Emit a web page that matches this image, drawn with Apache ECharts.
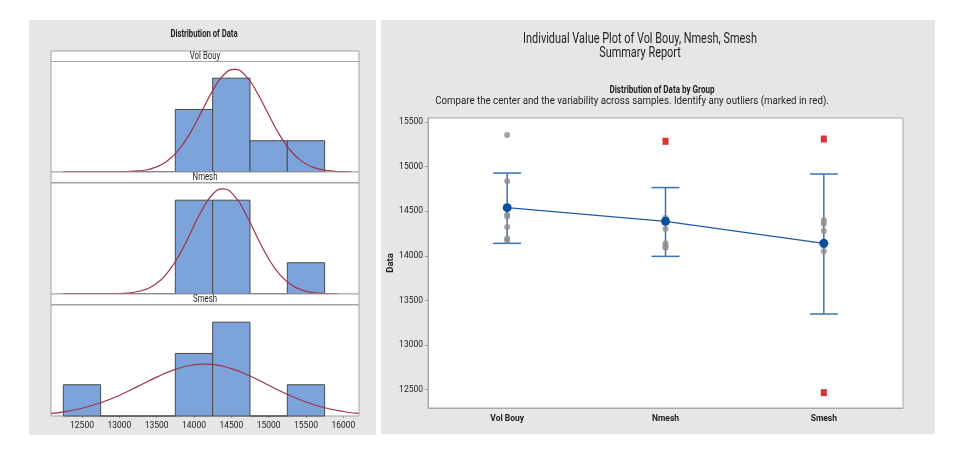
<!DOCTYPE html>
<html>
<head>
<meta charset="utf-8">
<script src="https://cdn.jsdelivr.net/npm/echarts@6/dist/echarts.min.js"></script>
<style>
  html, body { margin: 0; padding: 0; background: #fff; }
  #main { width: 956px; height: 449px; }
</style>
</head>
<body>
<div id="main"></div>
<script>
var FONT = "Roboto, 'Liberation Sans', sans-serif";

// histogram bins (left edge) and counts per group
var binStarts = [12250, 12750, 13250, 13750, 14250, 14750, 15250];
var binWidth = 500;
var volCounts = [0, 0, 0, 2, 3, 1, 1];
var nmeshCounts = [0, 0, 0, 3, 3, 0, 1];
var smeshCounts = [1, 0, 0, 2, 3, 0, 1];
var histTicks = [12500, 13000, 13500, 14000, 14500, 15000, 15500, 16000];

// fitted normal curves
var volCurve = [[12250, 0], [12750, 0.001], [13000, 0.005], [13250, 0.033], [13500, 0.165], [13650, 0.367],
  [13800, 0.721], [13950, 1.253], [14100, 1.922], [14250, 2.602], [14400, 3.111], [14540, 3.285],
  [14700, 3.06], [14850, 2.518], [15000, 1.829], [15150, 1.173], [15300, 0.664], [15450, 0.332],
  [15600, 0.146], [15800, 0.041], [16000, 0.009], [16110, 0.002]];
var nmeshCurve = [[12250, 0], [12750, 0.001], [13000, 0.013], [13250, 0.079], [13500, 0.345], [13650, 0.699],
  [13800, 1.242], [13950, 1.937], [14100, 2.654], [14250, 3.19], [14386, 3.365], [14550, 3.113],
  [14700, 2.527], [14850, 1.802], [15000, 1.126], [15150, 0.618], [15300, 0.298], [15450, 0.126],
  [15600, 0.047], [15750, 0.015], [15920, 0.004]];
var smeshCurve = [[12085, 0.083], [12250, 0.132], [12500, 0.247], [12750, 0.423], [13000, 0.662], [13250, 0.948],
  [13500, 1.243], [13750, 1.492], [14000, 1.639], [14140, 1.662], [14250, 1.648], [14500, 1.516],
  [14750, 1.277], [15000, 0.984], [15250, 0.694], [15500, 0.448], [15750, 0.265], [16000, 0.143], [16206, 0.081]];

// individual value plot
var groups = ['Vol Bouy', 'Nmesh', 'Smesh'];
var volValues = [15354, 14835, 14460, 14440, 14323, 14193, 14170];
var nmeshValues = [14426, 14380, 14300, 14140, 14110, 14090];
var nmeshOutliers = [15284];
var smeshValues = [14400, 14360, 14278, 14117, 14050];
var smeshOutliers = [15309, 12466];
var means = [14540, 14387, 14140];
var ciLow = [14140, 13994, 13348];
var ciHigh = [14928, 14765, 14917];
var dataTicks = [12500, 13000, 13500, 14000, 14500, 15000, 15500];

function histData(counts) {
  return counts.map(function (c, i) { return [binStarts[i], binStarts[i] + binWidth, c]; });
}
function pointData(idx, arr) {
  return arr.map(function (v) { return [idx, v]; });
}
function plain(v) { return String(v); }

var chart = echarts.init(document.getElementById('main'));

var histTops = [61, 183, 305];
var grids = [], xAxes = [], yAxes = [], series = [];
[volCounts, nmeshCounts, smeshCounts].forEach(function (counts, i) {
  grids.push({ left: 51, width: 308, top: histTops[i], height: 111, show: true,
    backgroundColor: '#fff', borderColor: '#a3a3a3', borderWidth: 1 });
  xAxes.push({ type: 'value', gridIndex: i, min: 12085, max: 16210,
    axisLine: { show: false }, splitLine: { show: false },
    axisTick: { show: i === 2, length: 2, lineStyle: { color: '#999' }, customValues: histTicks },
    axisLabel: { show: i === 2, customValues: histTicks, formatter: plain,
      fontFamily: FONT, fontSize: 8.5, color: '#222', margin: 5 } });
  yAxes.push({ type: 'value', gridIndex: i, min: 0, max: 3.55, show: false });
  series.push({
    type: 'custom', xAxisIndex: i, yAxisIndex: i, data: histData(counts),
    encode: { x: [0, 1], y: 2 },
    renderItem: function (params, api) {
      var a = api.coord([api.value(0), 0]);
      var b = api.coord([api.value(1), api.value(2)]);
      return { type: 'rect', shape: { x: a[0], y: b[1], width: b[0] - a[0], height: a[1] - b[1] },
        style: { fill: '#7ca4da', stroke: '#4a4a4a', lineWidth: 1 } };
    }
  });
});
[volCurve, nmeshCurve, smeshCurve].forEach(function (curve, i) {
  series.push({ type: 'line', xAxisIndex: i, yAxisIndex: i, data: curve, smooth: true,
    showSymbol: false, lineStyle: { color: '#9e3349', width: 1.2 }, z: 5 });
});

// right chart
grids.push({ left: 428, right: 53, top: 118, bottom: 41, show: true,
  backgroundColor: '#fff', borderColor: '#a8a8a8', borderWidth: 1 });
xAxes.push({ type: 'category', gridIndex: 3, data: groups,
  axisLine: { lineStyle: { color: '#a8a8a8' } },
  axisTick: { alignWithLabel: true, length: 3, lineStyle: { color: '#999' } },
  axisLabel: { fontFamily: FONT, fontSize: 8.5, color: '#222', fontWeight: 'bold', margin: 6 } });
yAxes.push({ type: 'value', gridIndex: 3, min: 12294, max: 15545,
  name: 'Data', nameLocation: 'middle', nameGap: 29,
  nameTextStyle: { fontFamily: FONT, fontSize: 9.5, fontWeight: 'bold', color: '#222' },
  splitLine: { show: false },
  axisLine: { show: true, lineStyle: { color: '#a8a8a8' } },
  axisTick: { show: true, length: 3, customValues: dataTicks, lineStyle: { color: '#999' } },
  axisLabel: { customValues: dataTicks, formatter: plain, fontFamily: FONT, fontSize: 8.5, color: '#222', margin: 5 } });

series.push({
  type: 'custom', xAxisIndex: 3, yAxisIndex: 3,
  data: groups.map(function (g, i) { return [i, ciLow[i], ciHigh[i]]; }),
  encode: { x: 0, y: [1, 2] },
  renderItem: function (params, api) {
    var lo = api.coord([api.value(0), api.value(1)]);
    var hi = api.coord([api.value(0), api.value(2)]);
    var st = { stroke: '#3a70b2', lineWidth: 1.5 };
    return { type: 'group', children: [
      { type: 'line', shape: { x1: lo[0], y1: lo[1], x2: hi[0], y2: hi[1] }, style: st },
      { type: 'line', shape: { x1: lo[0] - 14, y1: lo[1], x2: lo[0] + 14, y2: lo[1] }, style: st },
      { type: 'line', shape: { x1: hi[0] - 14, y1: hi[1], x2: hi[0] + 14, y2: hi[1] }, style: st }
    ] };
  },
  z: 2
});
series.push({ type: 'scatter', xAxisIndex: 3, yAxisIndex: 3,
  data: pointData(0, volValues).concat(pointData(1, nmeshValues), pointData(2, smeshValues)),
  symbol: 'circle', symbolSize: 6, itemStyle: { color: '#8d8d8d' }, z: 3 });
series.push({ type: 'scatter', xAxisIndex: 3, yAxisIndex: 3,
  data: pointData(1, nmeshOutliers).concat(pointData(2, smeshOutliers)),
  symbol: 'rect', symbolSize: [6, 7], itemStyle: { color: '#d00000' }, z: 3 });
series.push({ type: 'line', xAxisIndex: 3, yAxisIndex: 3, data: means,
  symbol: 'circle', symbolSize: 9, itemStyle: { color: '#0b4f9c' },
  lineStyle: { color: '#1f5ca3', width: 1.3 }, z: 4 });

// panel backgrounds, strip headers and titles
function label(text, x, y, size, weight, sx) {
  return { type: 'text', z: 11, x: x, y: y, scaleX: sx,
    style: { text: text, fontFamily: FONT, fontSize: size, fontWeight: weight, fill: '#1e1e1e',
      align: 'center', verticalAlign: 'middle' } };
}
var graphics = [
  { type: 'rect', z: -10, shape: { x: 29, y: 20, width: 347, height: 415 }, style: { fill: '#e6e6e6' } },
  { type: 'rect', z: -10, shape: { x: 381, y: 20, width: 554, height: 414 }, style: { fill: '#e6e6e6' } }
];
[['Vol Bouy', 51], ['Nmesh', 172], ['Smesh', 294]].forEach(function (s) {
  graphics.push({ type: 'rect', z: 10, shape: { x: 51, y: s[1], width: 308, height: 10.5 },
    style: { fill: '#fff', stroke: '#a3a3a3', lineWidth: 1 } });
  graphics.push(label(s[0], 205, s[1] + 5.5, 10, 'normal', 0.78));
});
graphics.push(label('Distribution of Data', 204, 34, 10, 'bold', 0.77));
graphics.push(label('Individual Value Plot of Vol Bouy, Nmesh, Smesh', 640, 39, 14, 'normal', 0.78));
graphics.push(label('Summary Report', 640, 53.5, 14, 'normal', 0.78));
graphics.push(label('Distribution of Data by Group', 662, 90, 10.5, 'bold', 0.77));
graphics.push(label('Compare the center and the variability across samples. Identify any outliers (marked in red).',
  632, 101.5, 10, 'normal', 0.97));

chart.setOption({
  animation: false,
  backgroundColor: '#fff',
  grid: grids,
  xAxis: xAxes,
  yAxis: yAxes,
  series: series,
  graphic: graphics
});
</script>
</body>
</html>
